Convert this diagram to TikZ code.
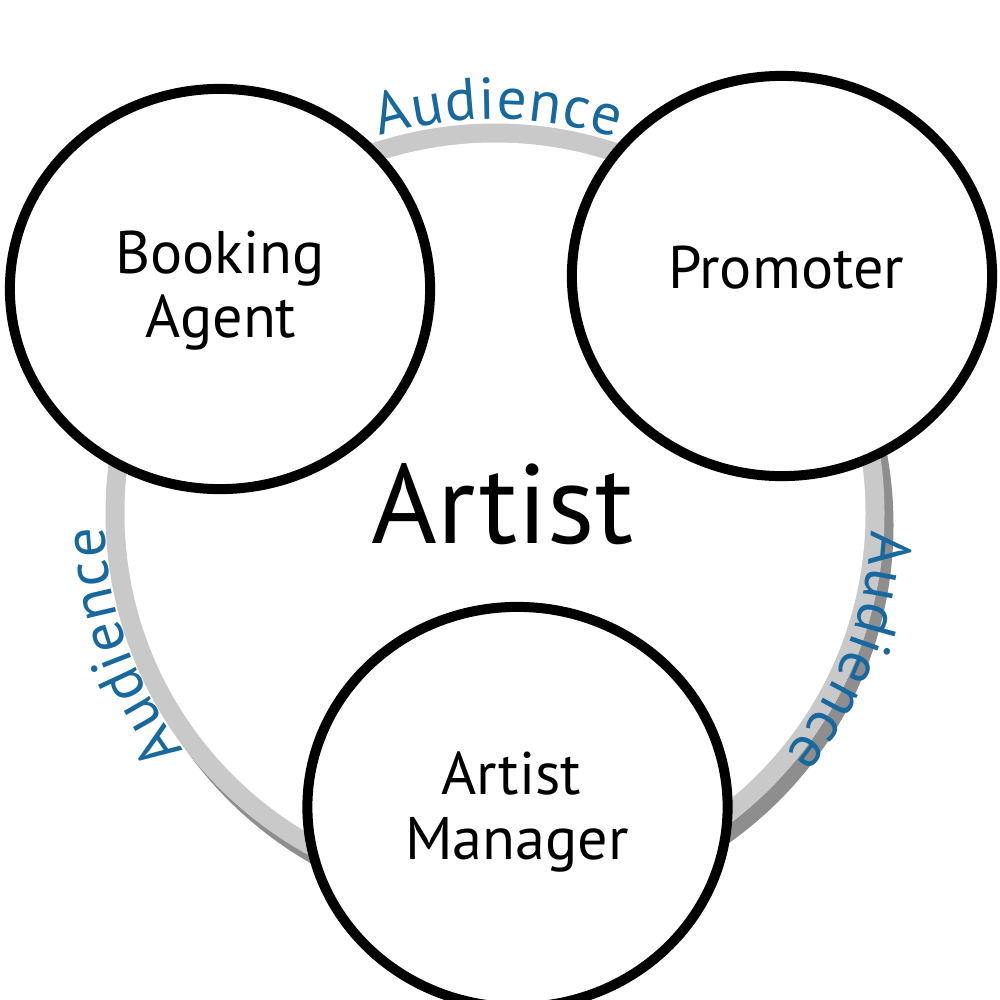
\documentclass[tikz,border=0pt]{standalone}
\usepackage{fontspec}
\setmainfont{PT Sans}
\usetikzlibrary{shapes.geometric,decorations.text}
\definecolor{ringlight}{HTML}{C9C9C9}
\definecolor{ringdark}{HTML}{8E8E8E}
\definecolor{audblue}{HTML}{17689F}
\newcommand\audfont{\fontsize{16.8pt}{18pt}\selectfont}
\begin{document}
\begin{tikzpicture}[x=0.01cm,y=0.01cm,
  party/.style={ellipse, draw=black, fill=white, line width=0.1cm,
    minimum width=4.2cm, minimum height=4.0cm, inner sep=0pt},
  lbl/.style={font=\fontsize{17.1pt}{18.2pt}\selectfont, inner sep=0pt, anchor=base},
  bigl/.style={font=\fontsize{32pt}{38pt}\selectfont, inner sep=0pt, anchor=base},
  aud/.style={decorate, decoration={text along path, text={|\audfont|Audience},
    text color=audblue, text align={fit to path}}}]
\useasboundingbox (0,0) rectangle (1000,-1000);
\clip (0,0) rectangle (1000,-1000);
\fill[white] (0,0) rectangle (1000,-1000);
\coordinate (C) at (495,-513);
% ring with shadow
\fill[ringdark] (504,-525) circle[radius=389.5];
\fill[ringlight] (C) circle[radius=389.5];
\fill[white] (C) circle[radius=370.5];
% Audience labels
\path[aud] (C) ++(107:394) arc[start angle=107, end angle=72, radius=394];
\path[aud] (C) ++(217.3:391) arc[start angle=217.3, end angle=182, radius=391];
\path[aud] (C) ++(-2.6:377) arc[start angle=-2.6, end angle=-39.8, radius=377];
% parties
\node[party] (booking) at (220,-289) {};
\node[party] (promoter) at (782,-276) {};
\node[party] (manager) at (517.5,-807) {};
% texts
\node[lbl] (bk) at (220,-273) {Booking};
\node[lbl] (ag) at (221,-337) {Agent};
\node[lbl] (pr) at (786,-288) {Promoter};
\node[lbl] (ar) at (511,-794) {Artist};
\node[lbl] (mg) at (517,-859) {Manager};
\node[bigl] (artist) at (502.5,-543) {Artist};
\end{tikzpicture}
\end{document}
